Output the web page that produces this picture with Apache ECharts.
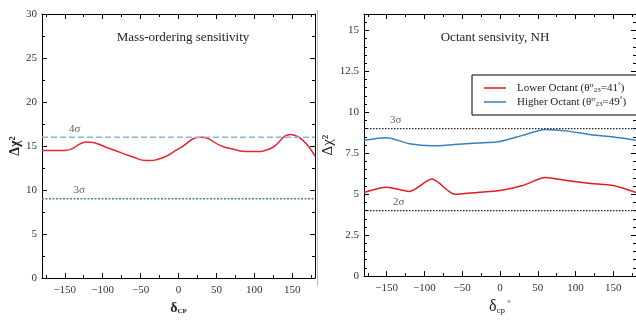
<!DOCTYPE html>
<html>
<head>
<meta charset="utf-8">
<script src="https://cdn.jsdelivr.net/npm/echarts@6/dist/echarts.min.js"></script>
<style>
  html, body { margin: 0; padding: 0; background: #fff; }
  #chart { width: 636px; height: 320px; }
</style>
</head>
<body>
<div id="chart"></div>
<script>
// left panel: mass ordering sensitivity
const deltaMO = [-180, -150, -120, -90, -60, -42, -20, 0, 30, 60, 100, 120, 148, 180];
const chiMO = [14.5, 14.5, 15.45, 14.7, 13.75, 13.35, 13.7, 14.67, 16.0, 14.9, 14.38, 14.67, 16.32, 13.85];

// right panel: octant sensitivity
const deltaOct = [-180, -150, -120, -90, -60, -30, 0, 30, 60, 90, 120, 150, 180];
const chiLower = [5.1, 5.43, 5.17, 5.92, 5.0, 5.11, 5.22, 5.53, 6.02, 5.82, 5.66, 5.53, 5.1];
const chiHigher = [8.3, 8.45, 8.08, 7.95, 8.03, 8.12, 8.22, 8.59, 8.95, 8.85, 8.63, 8.49, 8.3];

const sigmaMO = [16, 9];
const sigmaMOLabels = ["4σ", "3σ"];
const sigmaOct = [9, 4];
const sigmaOctLabels = ["3σ", "2σ"];

const serif = '"Liberation Serif", "DejaVu Serif", serif';
const pairs = (xs, ys) => xs.map((x, i) => [x, ys[i]]);
const hline = (v) => [[-180, v], [180, v]];
const minus = (v) => String(v).replace("-", "\u2212");

function xAxes(grid, name) {
  const base = {
    gridIndex: grid, type: "value", min: -180, max: 180,
    splitLine: { show: false },
    axisLine: { show: false, onZero: false, lineStyle: { color: "#000", width: 1 } },
    axisTick: { inside: true, length: 5, lineStyle: { color: "#000" } },
    axisLabel: { show: false },
  };
  return [
    Object.assign({}, base, {
      position: "bottom", minInterval: 50, maxInterval: 50,
      axisLine: Object.assign({}, base.axisLine, { show: true }),
      axisLabel: {
        show: true, formatter: minus, showMinLabel: false, showMaxLabel: false,
        fontFamily: serif, fontSize: 11, color: "#333", margin: 7,
      },
      name: name, nameLocation: "middle", nameGap: 19,
    }),
    Object.assign({}, base, { position: "bottom", minInterval: 25, maxInterval: 25,
      axisTick: { inside: true, length: 3, lineStyle: { color: "#000" } } }),
    Object.assign({}, base, { position: "top", minInterval: 50, maxInterval: 50,
      axisLine: Object.assign({}, base.axisLine, { show: true }) }),
    Object.assign({}, base, { position: "top", minInterval: 25, maxInterval: 25,
      axisTick: { inside: true, length: 3, lineStyle: { color: "#000" } } }),
  ];
}

function yAxes(grid, max, major, minor, name, nameStyle, nameGap) {
  const base = {
    gridIndex: grid, type: "value", min: 0, max: max,
    splitLine: { show: false },
    axisLine: { show: false, onZero: false, lineStyle: { color: "#000", width: 1 } },
    axisTick: { inside: true, length: 5, lineStyle: { color: "#000" } },
    axisLabel: { show: false },
  };
  return [
    Object.assign({}, base, {
      position: "left", interval: major,
      axisLine: Object.assign({}, base.axisLine, { show: true }),
      axisLabel: { show: true, showMaxLabel: max % major === 0, fontFamily: serif, fontSize: 11, color: "#333", margin: 5 },
      name: name, nameLocation: "middle", nameGap: nameGap, nameTextStyle: nameStyle,
    }),
    Object.assign({}, base, { position: "left", interval: minor,
      axisTick: { inside: true, length: 3, lineStyle: { color: "#000" } } }),
    Object.assign({}, base, { position: "right", interval: major,
      axisLine: Object.assign({}, base.axisLine, { show: true }) }),
    Object.assign({}, base, { position: "right", interval: minor,
      axisTick: { inside: true, length: 3, lineStyle: { color: "#000" } } }),
  ];
}

const labelSeries = (xi, yi, pts, texts) => ({
  type: "scatter", xAxisIndex: xi, yAxisIndex: yi, symbolSize: 0, silent: true,
  data: pts.map((p, i) => ({ value: p, label: { formatter: texts[i] } })),
  label: { show: true, position: "top", distance: 3, fontFamily: serif, fontSize: 11, color: "#333" },
});

const chart = echarts.init(document.getElementById("chart"), null, { renderer: "canvas" });

const option = {
  animation: false,
  backgroundColor: "#fff",
  title: [
    { text: "Mass-ordering sensitivity", left: 178, top: 26, textAlign: "center",
      textStyle: { fontFamily: serif, fontSize: 13, fontWeight: "normal", color: "#222" } },
    { text: "Octant sensivity, NH", left: 490, top: 26, textAlign: "center",
      textStyle: { fontFamily: serif, fontSize: 13, fontWeight: "normal", color: "#222" } },
  ],
  grid: [
    { left: 42, top: 14, width: 273, height: 273 },
    { left: 364, top: 14, width: 274, height: 272 },
  ],
  legend: {
    data: ["Lower Octant", "Higher Octant"],
    left: 472, top: 75, orient: "vertical", icon: "rect",
    padding: [7, 16, 7, 12], itemGap: 2, itemWidth: 22, itemHeight: 1.5,
    borderColor: "#000", borderWidth: 1, backgroundColor: "#fff",
    formatter: (n) => n === "Lower Octant"
      ? "Lower Octant (θ{sup|tr}{sub|23}=41{sup|°})"
      : "Higher Octant (θ{sup|tr}{sub|23}=49{sup|°})",
    textStyle: {
      fontFamily: serif, fontSize: 11, color: "#222", padding: [0, 0, 0, 6],
      rich: {
        sup: { fontFamily: serif, fontSize: 7, color: "#222", verticalAlign: "top", padding: [0, 0, 5, 0] },
        sub: { fontFamily: serif, fontSize: 7, color: "#222", verticalAlign: "bottom", padding: [5, 0, 0, 0] },
      },
    },
  },
  xAxis: [
    ...xAxes(0, "{d|δ}{s|CP}"),
    ...xAxes(1, "{d|δ}{s|cp}{o| °}"),
  ],
  yAxis: [
    ...yAxes(0, 30, 5, 2.5, "Δχ²", { fontFamily: serif, fontSize: 14, fontWeight: "bold", color: "#222" }, 18),
    ...yAxes(1, 16, 2.5, 0.5, "Δχ²", { fontFamily: serif, fontSize: 15, color: "#222" }, 17),
  ],
  series: [
    { name: "MO", type: "line", xAxisIndex: 0, yAxisIndex: 0, data: pairs(deltaMO, chiMO),
      smooth: 0.5, symbol: "none", lineStyle: { color: "#e8262b", width: 1.5 }, color: "#e8262b" },
    { name: "4sigma", type: "line", xAxisIndex: 0, yAxisIndex: 0, data: hline(sigmaMO[0]), symbol: "none",
      lineStyle: { color: "#8db4d9", width: 1.5, type: [6, 3] } },
    { name: "3sigmaMO", type: "line", xAxisIndex: 0, yAxisIndex: 0, data: hline(sigmaMO[1]), symbol: "none",
      lineStyle: { color: "#4e9450", width: 1.5, type: [2, 1.5] } },
    labelSeries(0, 0, [[-137, sigmaMO[0]], [-131, sigmaMO[1]]], sigmaMOLabels),

    { name: "Lower Octant", type: "line", xAxisIndex: 4, yAxisIndex: 4, data: pairs(deltaOct, chiLower),
      smooth: 0.25, symbol: "none", lineStyle: { color: "#e41a1c", width: 1.5 }, color: "#e41a1c" },
    { name: "Higher Octant", type: "line", xAxisIndex: 4, yAxisIndex: 4, data: pairs(deltaOct, chiHigher),
      smooth: 0.25, symbol: "none", lineStyle: { color: "#3b7fc0", width: 1.5 }, color: "#3b7fc0" },
    { name: "3sigmaOct", type: "line", xAxisIndex: 4, yAxisIndex: 4, data: hline(sigmaOct[0]), symbol: "none",
      lineStyle: { color: "#222", width: 1.2, type: [1.5, 1.5] } },
    { name: "2sigmaOct", type: "line", xAxisIndex: 4, yAxisIndex: 4, data: hline(sigmaOct[1]), symbol: "none",
      lineStyle: { color: "#222", width: 1.2, type: [1.5, 1.5] } },
    labelSeries(4, 4, [[-138, sigmaOct[0]], [-134, sigmaOct[1]]], sigmaOctLabels),
  ],
  graphic: [
    { type: "line", shape: { x1: 317.5, y1: 10, x2: 317.5, y2: 286 }, style: { stroke: "#bbb", lineWidth: 1 } },
  ],
};

// rich styles for the x-axis names
option.xAxis.forEach((ax) => {
  if (ax.name) {
    const big = ax.gridIndex === 1;
    ax.nameTextStyle = {
      color: "#222",
      rich: {
        d: { fontFamily: serif, fontSize: big ? 16 : 14, fontWeight: big ? "normal" : "bold", color: "#222" },
        s: { fontFamily: serif, fontSize: big ? 9 : 7, fontWeight: big ? "normal" : "bold", color: "#222", verticalAlign: "bottom", padding: [6, 0, 0, 0] },
        o: { fontFamily: serif, fontSize: 9, color: "#222", verticalAlign: "top", padding: [0, 0, 6, 0] },
      },
    };
  }
});

chart.setOption(option);
window.addEventListener("resize", () => chart.resize());
</script>
</body>
</html>
